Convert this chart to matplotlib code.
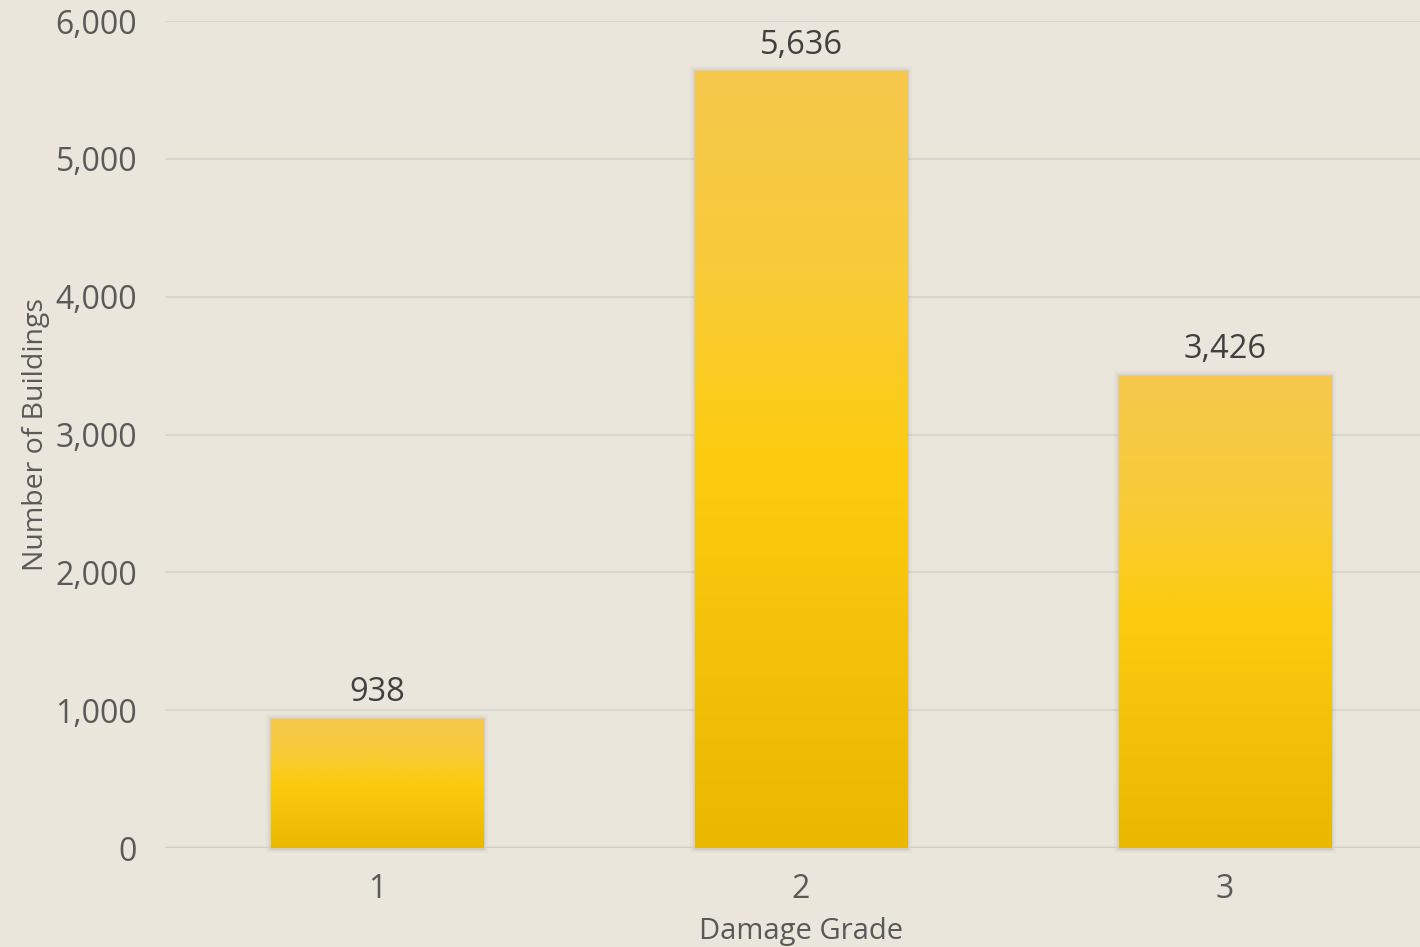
import matplotlib.pyplot as plt
import numpy as np
from matplotlib.colors import LinearSegmentedColormap
from matplotlib.ticker import FuncFormatter

grades = [1, 2, 3]
buildings = [938, 5636, 3426]
y_ticks = [0, 1000, 2000, 3000, 4000, 5000, 6000]

plt.rcParams['font.family'] = ['Open Sans', 'DejaVu Sans']

bg = '#EAE6DC'
fig = plt.figure(figsize=(14.2, 9.47), dpi=100, facecolor=bg)
# plot area runs a little past the right edge of the figure
ax = fig.add_axes([0.1162, 0.1045, 0.8958, 0.8733], facecolor=bg)

# vertical gradient: light top, saturated middle, darker base
grad = LinearSegmentedColormap.from_list(
    'gold', ['#EAB800', '#F3C107', '#FDCB10', '#F8CB3A', '#F5C84C'])

bars = ax.bar(grades, buildings, width=0.5, color='none', zorder=3)
for bar in bars:
    x0, y0 = bar.get_x(), bar.get_y()
    w, h = bar.get_width(), bar.get_height()
    # soft grey glow round each bar
    for lw, a in [(7, 0.04), (4, 0.06), (2, 0.08)]:
        ax.add_patch(plt.Rectangle((x0, y0), w, h, facecolor='none', edgecolor='#5a5448',
                                   linewidth=lw, alpha=a, zorder=2, clip_on=False))
    img = ax.imshow(np.linspace(0, 1, 256).reshape(-1, 1), cmap=grad, origin='lower',
                    extent=(x0, x0 + w, y0, y0 + h), aspect='auto', zorder=3)
    img.set_clip_path(bar)
    ax.text(bar.get_x() + w / 2, h + 70, f'{h:,.0f}', ha='center', va='bottom',
            fontsize=23.5, color='#404040', zorder=4)

ax.set_xlim(0.5, 3.5)
ax.set_ylim(0, 6000)
ax.set_xticks(grades)
ax.set_yticks(y_ticks)
ax.yaxis.set_major_formatter(FuncFormatter(lambda v, p: f'{v:,.0f}'))
ax.tick_params(axis='both', length=0, labelsize=23, labelcolor='#595959')
ax.tick_params(axis='y', pad=20)
ax.tick_params(axis='x', pad=18)
ax.grid(axis='y', color='#D9D7D2', linewidth=1.5, zorder=0)
ax.axhline(0, color='#D0CEC8', linewidth=2.5, zorder=2.5)
for s in ax.spines.values():
    s.set_visible(False)

ax.set_xlabel('Damage Grade', fontsize=21, color='#595959', labelpad=8)
ax.set_ylabel('Number of Buildings', fontsize=20.5, color='#595959', labelpad=4)

fig.savefig('out.png', dpi=100, facecolor=bg)
